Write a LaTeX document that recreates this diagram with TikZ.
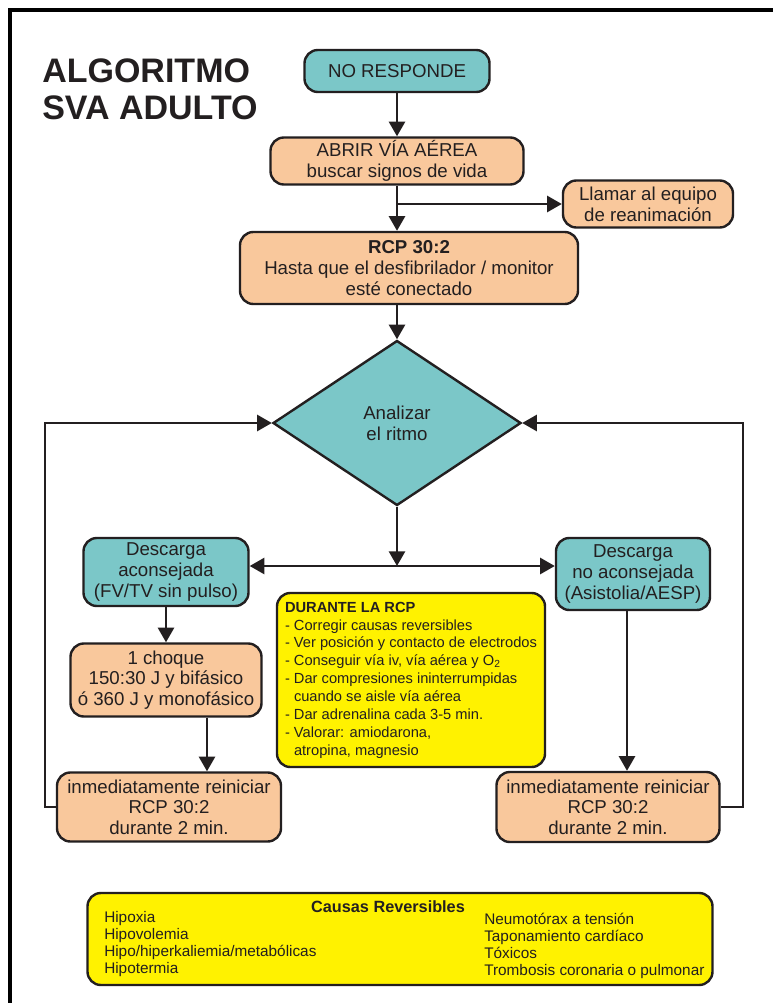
\documentclass[tikz,border=0pt]{standalone}
\usepackage{fontspec}
\setmainfont{Liberation Sans}
\usetikzlibrary{arrows.meta,shapes.geometric,positioning}
\definecolor{tealbox}{HTML}{7BC7C8}
\definecolor{peachbox}{HTML}{F9C89C}
\definecolor{yellowbox}{HTML}{FFF200}
\definecolor{inkline}{HTML}{231F20}
\tikzset{boxsz/.style 2 args={minimum width=#1*0.75pt, minimum height=#2*0.75pt}}

\begin{document}
\begin{tikzpicture}[x=0.75pt,y=-0.75pt]
    \tikzstyle{every node}+=[inner sep=0pt, text=inkline, font=\fontsize{14}{15.5}\selectfont]
    \tikzstyle{box}=[draw=inkline, line width=1.8pt, rounded corners=10pt, align=center]
    \tikzstyle{tealb}=[box, fill=tealbox]
    \tikzstyle{peachb}=[box, fill=peachbox]
    \tikzstyle{yellowb}=[box, fill=yellowbox]
    \tikzstyle{arr}=[draw=inkline, line width=2pt, -{Triangle[length=11pt,width=12pt]}]
    \useasboundingbox (0,0) rectangle (773,1003);
    \fill [white] (0,0) rectangle (773,1003);
    \draw [black, line width=3pt] (10,1010) -- (10,10) -- (780,10);
    \node [anchor=west, align=left, font=\fontsize{25.5}{28}\selectfont\bfseries] (titulo) at (42,89) {ALGORITMO\\SVA ADULTO};
    \node [tealb, boxsz={185}{42}] (noresp) at (397,71) {NO RESPONDE};
    \node [peachb, boxsz={253}{47}] (abrir) at (397,161) {ABRIR VÍA AÉREA\\buscar signos de vida};
    \node [peachb, boxsz={170}{47}] (llamar) at (648,204) {Llamar al equipo\\de reanimación};
    \node [peachb, boxsz={338}{72}] (rcp) at (409,268) {\textbf{RCP 30:2}\\Hasta que el desfibrilador / monitor\\esté conectado};
    \node [diamond, draw=inkline, line width=1.8pt, fill=tealbox, aspect=1.5, boxsz={248}{165}, align=center] (ritmo) at (397,423) {Analizar\\el ritmo};
    \node [tealb, boxsz={165}{68}] (descsi) at (166,572) {Descarga\\aconsejada\\(FV/TV sin pulso)};
    \node [tealb, boxsz={154}{72}] (descno) at (633,574) {Descarga\\no aconsejada\\(Asistolia/AESP)};
    \node [peachb, boxsz={191}{73}] (choque) at (166,680) {1 choque\\150:30 J y bifásico\\ó 360 J y monofásico};
    \node [peachb, boxsz={224}{69}] (reinicsi) at (169,807) {inmediatamente reiniciar\\RCP 30:2\\durante 2 min.};
    \node [peachb, boxsz={223}{70}] (reinicno) at (608,807) {inmediatamente reiniciar\\RCP 30:2\\durante 2 min.};
    \node [yellowb, boxsz={268}{174}, align=left, font=\fontsize{11}{13.4}\selectfont] (durante) at (411,680) {\textbf{DURANTE LA RCP}\\- Corregir causas reversibles\\- Ver posición y contacto de electrodos\\- Conseguir vía iv, vía aérea y O\textsubscript{2}\\- Dar compresiones ininterrumpidas\\\hphantom{-}\ cuando se aisle vía aérea\\- Dar adrenalina cada 3-5 min.\\- Valorar: amiodarona,\\\hphantom{-}\ atropina, magnesio};
    \node [yellowb, boxsz={625}{92}] (causas) at (400,939) {};
    \node [font=\fontsize{12.2}{14}\selectfont\bfseries] (causastit) at (388,907) {Causas Reversibles};
    \node [anchor=north west, align=left, font=\fontsize{11.5}{12.75}\selectfont] (causasizq) at (104,911) {Hipoxia\\Hipovolemia\\Hipo/hiperkaliemia/metabólicas\\Hipotermia};
    \node [anchor=north west, align=left, font=\fontsize{11.5}{12.75}\selectfont] (causasder) at (484,913) {Neumotórax a tensión\\Taponamiento cardíaco\\Tóxicos\\Trombosis coronaria o pulmonar};
    \coordinate (hub) at (397,566);
    \coordinate (loopL) at (45,423);
    \coordinate (loopR) at (743,423);
    \coordinate (chqout) at ([xshift=30.75pt]choque.south);
    \coordinate (noout) at ([xshift=-4.5pt]descno.south);
    \draw [arr] (noresp) -- (abrir);
    \draw [arr] (abrir.south) -- (abrir.south |- rcp.north);
    \draw [arr] (abrir.south |- llamar.west) -- (llamar.west);
    \draw [arr] (ritmo.north |- rcp.south) -- (ritmo.north);
    \draw [arr] (ritmo.south) -- (hub);
    \draw [arr] (hub) -- (hub -| descsi.east);
    \draw [arr] (hub) -- (hub -| descno.west);
    \draw [arr] (descsi.south) -- (descsi.south |- choque.north);
    \draw [arr] (chqout) -- (chqout |- reinicsi.north);
    \draw [arr] (noout) -- (noout |- reinicno.north);
    \draw [arr] (reinicsi.west) -- (reinicsi.west -| loopL) -- (loopL) -- (ritmo.west);
    \draw [arr] (reinicno.east) -- (reinicno.east -| loopR) -- (loopR) -- (ritmo.east);
\end{tikzpicture}
\end{document}
